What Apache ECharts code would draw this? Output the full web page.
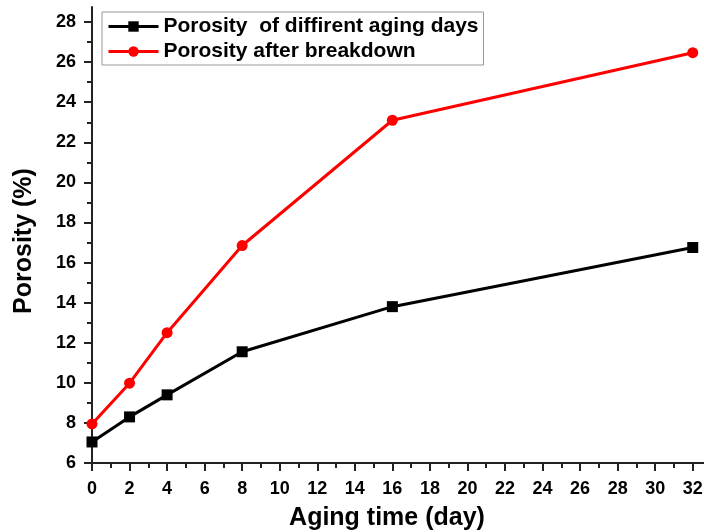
<!DOCTYPE html>
<html>
<head>
<meta charset="utf-8">
<script src="https://cdn.jsdelivr.net/npm/echarts@6/dist/echarts.min.js"></script>
<style>html,body{margin:0;padding:0;background:#fff;}#c{width:704px;height:532px;}</style>
</head>
<body>
<div id="c"></div>
<script>
const days = [0, 2, 4, 8, 16, 32];
const porosityAging = [7.05, 8.3, 9.4, 11.55, 13.8, 16.75];
const porosityBreakdown = [7.95, 9.98, 12.5, 16.85, 23.1, 26.47];
const seriesNames = ['Porosity  of diffirent aging days', 'Porosity after breakdown'];
const xMajorTicks = [0, 2, 4, 6, 8, 10, 12, 14, 16, 18, 20, 22, 24, 26, 28, 30, 32];
const xMinorTicks = [1, 3, 5, 7, 9, 11, 13, 15, 17, 19, 21, 23, 25, 27, 29, 31];
const yMajorTicks = [6, 8, 10, 12, 14, 16, 18, 20, 22, 24, 26, 28];
const yMinorTicks = [7, 9, 11, 13, 15, 17, 19, 21, 23, 25, 27];

const font = 'Liberation Sans, Arial, sans-serif';
const axisColor = '#222';
const chart = echarts.init(document.getElementById('c'), null, {renderer: 'canvas'});

function pairs(xs, ys) { return xs.map((x, i) => [x, ys[i]]); }

chart.setOption({
  animation: false,
  backgroundColor: '#fff',
  grid: {left: 92, right: 0, top: 7, bottom: 69, containLabel: false, outerBoundsMode: 'none'},
  legend: {
    orient: 'vertical', left: 102, top: 12,
    padding: [4, 5, 3, 5], itemGap: 4,
    itemWidth: 50, itemHeight: 13,
    borderColor: '#999', borderWidth: 1,
    lineStyle: {width: 3},
    textStyle: {fontFamily: font, fontWeight: 'bold', fontSize: 21, color: '#000'},
    data: seriesNames
  },
  xAxis: [{
    type: 'value', min: 0, max: 32.6, position: 'bottom',
    axisLine: {show: true, onZero: false, lineStyle: {color: axisColor, width: 2}},
    axisTick: {show: true, customValues: xMajorTicks, length: 8, lineStyle: {color: axisColor, width: 2}},
    axisLabel: {customValues: xMajorTicks, margin: 17, fontFamily: font, fontWeight: 'bold', fontSize: 18, color: '#000'},
    splitLine: {show: false},
    name: 'Aging time (day)', nameLocation: 'middle', nameGap: 43,
    nameTextStyle: {fontFamily: font, fontWeight: 'bold', fontSize: 25, color: '#000', padding: [0, 22, 0, 0]}
  }, {
    type: 'value', min: 0, max: 32.6, position: 'bottom',
    axisLine: {show: false, onZero: false},
    axisTick: {show: true, customValues: xMinorTicks, length: 5, lineStyle: {color: axisColor, width: 2}},
    axisLabel: {show: false},
    splitLine: {show: false}
  }],
  yAxis: [{
    type: 'value', min: 6, max: 28.75, position: 'left',
    axisLine: {show: true, onZero: false, lineStyle: {color: axisColor, width: 2}},
    axisTick: {show: true, customValues: yMajorTicks, length: 8, lineStyle: {color: axisColor, width: 2}},
    axisLabel: {customValues: yMajorTicks, margin: 16, fontFamily: font, fontWeight: 'bold', fontSize: 18, color: '#000'},
    splitLine: {show: false},
    name: 'Porosity (%)', nameLocation: 'middle', nameGap: 55,
    nameTextStyle: {fontFamily: font, fontWeight: 'bold', fontSize: 25, color: '#000', padding: [0, 12, 0, 0]}
  }, {
    type: 'value', min: 6, max: 28.75, position: 'left',
    axisLine: {show: false, onZero: false},
    axisTick: {show: true, customValues: yMinorTicks, length: 5, lineStyle: {color: axisColor, width: 2}},
    axisLabel: {show: false},
    splitLine: {show: false}
  }],
  series: [{
    name: seriesNames[0], type: 'line', xAxisIndex: 0, yAxisIndex: 0,
    data: pairs(days, porosityAging),
    symbol: 'rect', symbolSize: 11,
    lineStyle: {color: '#000', width: 3},
    itemStyle: {color: '#000'}
  }, {
    name: seriesNames[1], type: 'line', xAxisIndex: 0, yAxisIndex: 0,
    data: pairs(days, porosityBreakdown),
    symbol: 'circle', symbolSize: 11,
    lineStyle: {color: '#ff0000', width: 3},
    itemStyle: {color: '#ff0000'}
  }]
});
</script>
</body>
</html>
